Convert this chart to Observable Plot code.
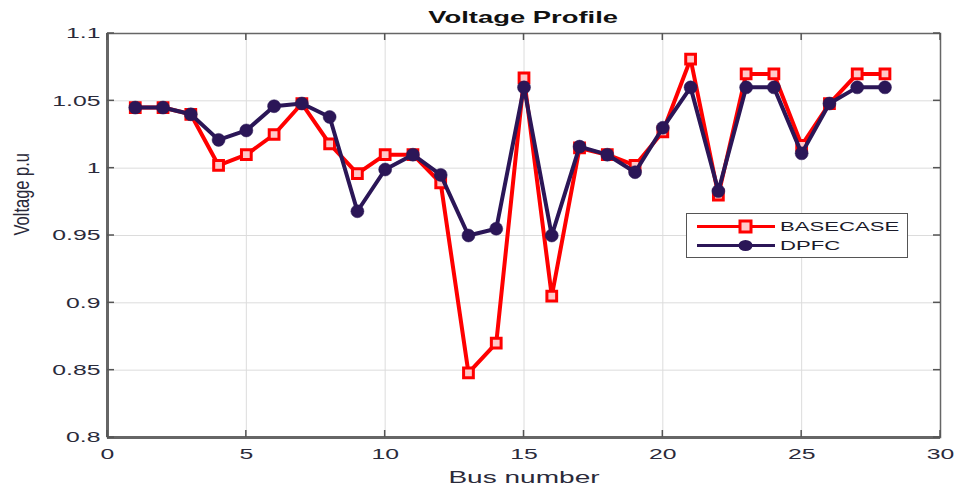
<!DOCTYPE html>
<html>
<head>
<meta charset="utf-8">
<script src="https://cdn.jsdelivr.net/npm/d3@7"></script>
<script src="https://cdn.jsdelivr.net/npm/@observablehq/plot@0.6"></script>
<style>
  html, body { margin: 0; padding: 0; background: #fff; }
  #wrap { position: relative; width: 954px; height: 488px; font-family: "Liberation Sans", Arial, sans-serif; }
  #chart { position: absolute; left: 0; top: 0; }
  #title { position: absolute; left: 107px; width: 833px; top: 8px; text-align: center; font-weight: bold; font-size: 16.5px; color: #111; }
  #title span { display: inline-block; transform: scaleX(1.66); transform-origin: center; }
  #legend { position: absolute; left: 686px; top: 213px; width: 222px; height: 45px; border: 1.5px solid #555; background: #fff; box-sizing: border-box; }
  .row { position: absolute; left: 10px; height: 20px; display: flex; align-items: center; font-size: 13px; color: #1a1a2a; }
  .row svg { margin-right: 5px; }
  .row span { display: inline-block; transform: scaleX(1.7); transform-origin: left center; }
</style>
</head>
<body>
<div id="wrap">
  <div id="chart"></div>
  <div id="title"><span>Voltage Profile</span></div>
  <div id="legend"></div>
</div>
<script>
const buses = [1,2,3,4,5,6,7,8,9,10,11,12,13,14,15,16,17,18,19,20,21,22,23,24,25,26,27,28];
const basecase = [1.045,1.045,1.040,1.002,1.010,1.025,1.048,1.018,0.996,1.010,1.010,0.989,0.848,0.870,1.067,0.905,1.015,1.010,1.002,1.027,1.081,0.980,1.070,1.070,1.017,1.048,1.070,1.070];
const dpfc = [1.045,1.045,1.040,1.021,1.028,1.046,1.048,1.038,0.968,0.999,1.010,0.995,0.950,0.955,1.060,0.950,1.016,1.010,0.997,1.030,1.060,0.983,1.060,1.060,1.011,1.048,1.060,1.060];
const seriesNames = ["BASECASE", "DPFC"];
const seriesColors = ["#ff0000", "#2b1657"];
const xTicks = [0,5,10,15,20,25,30];
const yTicks = [0.8,0.85,0.9,0.95,1,1.05,1.1];
const yTickLabels = ["0.8","0.85","0.9","0.95","1","1.05","1.1"];

const baseData = buses.map((b, i) => ({bus: b, v: basecase[i]}));
const dpfcData = buses.map((b, i) => ({bus: b, v: dpfc[i]}));

const plot = Plot.plot({
  width: 954,
  height: 488,
  marginLeft: 107,
  marginRight: 14,
  marginTop: 33,
  marginBottom: 51,
  style: {fontFamily: "'Liberation Sans', Arial, sans-serif", fontSize: "15px", color: "#262626", background: "#fff"},
  x: {domain: [0, 30], ticks: xTicks},
  y: {domain: [0.8, 1.1], ticks: yTicks},
  marks: [
    Plot.gridX(xTicks, {stroke: "#dcdcdc", strokeOpacity: 1, strokeWidth: 1}),
    Plot.gridY(yTicks, {stroke: "#dcdcdc", strokeOpacity: 1, strokeWidth: 1}),
    Plot.frame({stroke: "#666", strokeWidth: 1.5}),
    Plot.axisX(xTicks, {anchor: "bottom", tickSize: 0, tickPadding: 11, fontSize: 15, label: null, fill: "#2a2a3a"}),
    Plot.axisY(yTicks, {anchor: "left", tickSize: 0, tickPadding: 7, fontSize: 15, label: null, tickFormat: (d, i) => yTickLabels[i], fill: "#2a2a3a"}),
    Plot.ruleY([0.8], {stroke: "#666", strokeWidth: 3}),
    Plot.ruleX([0], {stroke: "#666", strokeWidth: 3}),
    Plot.line(baseData, {x: "bus", y: "v", stroke: seriesColors[0], strokeWidth: 4}),
    Plot.dot(baseData, {x: "bus", y: "v", symbol: "square", r: 5.5, stroke: seriesColors[0], strokeWidth: 3, fill: "#ffc8c8"}),
    Plot.line(dpfcData, {x: "bus", y: "v", stroke: seriesColors[1], strokeWidth: 4}),
    Plot.dot(dpfcData, {x: "bus", y: "v", symbol: "circle", r: 6.5, fill: seriesColors[1], stroke: seriesColors[1], strokeWidth: 0.5}),
    Plot.text(["Bus number"], {frameAnchor: "bottom", dy: 40, fontSize: 17, fill: "#2a2a3a", lineAnchor: "middle"}),
    Plot.text(["Voltage p.u"], {frameAnchor: "left", dx: -85, rotate: -90, fontSize: 16.5, fill: "#2a2a3a"})
  ]
});
document.getElementById("chart").appendChild(plot);

// widen the text horizontally as in the (stretched) reference picture
plot.querySelectorAll("text").forEach(t => {
  const tr = t.getAttribute("transform") || "";
  const rotated = /rotate/.test(tr);
  if (rotated) {
    t.setAttribute("transform", `${tr} scale(1,1.3)`);
  } else {
    const xa = t.getAttribute("x");
    const x = xa && !/em/.test(xa) ? +xa : 0;
    if (xa && !/em/.test(xa)) t.removeAttribute("x");
    t.setAttribute("transform", `${tr} translate(${x},0) scale(1.65,1)`);
  }
});

// inward ticks (MATLAB-style) on all four sides
const svg = d3.select(plot);
const sx = plot.scale("x"), sy = plot.scale("y");
const g = svg.append("g").attr("stroke", "#555").attr("stroke-width", 1.5);
const [x0, x1] = sx.range, [y0, y1] = sy.range;
xTicks.forEach(t => {
  const X = sx.apply(t);
  g.append("line").attr("x1", X).attr("x2", X).attr("y1", y0).attr("y2", y0 - 7);
  g.append("line").attr("x1", X).attr("x2", X).attr("y1", y1).attr("y2", y1 + 7);
});
yTicks.forEach(t => {
  const Y = sy.apply(t);
  g.append("line").attr("y1", Y).attr("y2", Y).attr("x1", x0).attr("x2", x0 + 7);
  g.append("line").attr("y1", Y).attr("y2", Y).attr("x1", x1).attr("x2", x1 - 7);
});

// legend
const legend = document.getElementById("legend");
seriesNames.forEach((name, i) => {
  const row = document.createElement("div");
  row.className = "row";
  row.style.top = (i === 0 ? 2 : 21) + "px";
  const marker = i === 0
    ? `<rect x="43" y="5" width="11" height="11" fill="#ffc8c8" stroke="${seriesColors[0]}" stroke-width="3"/>`
    : `<ellipse cx="48.5" cy="10.5" rx="7" ry="5.5" fill="${seriesColors[1]}"/>`;
  row.innerHTML = `<svg width="78" height="21"><line x1="0" x2="78" y1="10.5" y2="10.5" stroke="${seriesColors[i]}" stroke-width="3"/>${marker}</svg><span>${name}</span>`;
  legend.appendChild(row);
});
</script>
</body>
</html>
